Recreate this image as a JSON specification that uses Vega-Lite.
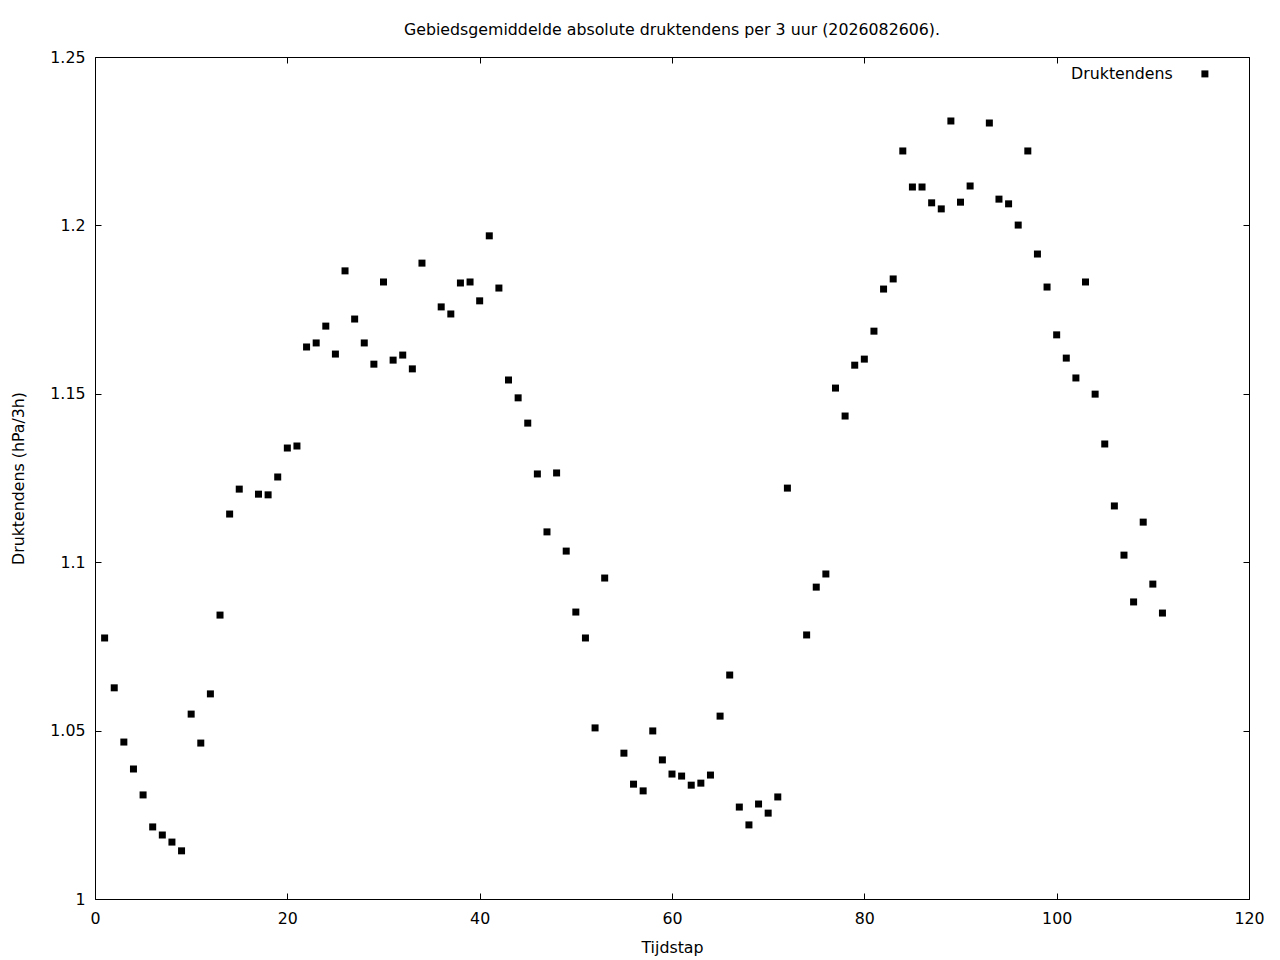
{
  "$schema": "https://vega.github.io/schema/vega-lite/v6.json",
  "description": "Gebiedsgemiddelde absolute druktendens per tijdstap",
  "autosize": "none",
  "width": 1154,
  "height": 842,
  "padding": {"left": 95, "top": 57, "right": 31, "bottom": 61},
  "background": "white",
  "title": {
    "text": "Gebiedsgemiddelde absolute druktendens per 3 uur (2026082606).",
    "anchor": "middle",
    "font": "DejaVu Sans",
    "fontSize": 15.8,
    "fontWeight": "normal",
    "color": "black",
    "offset": 10
  },
  "data": {
    "values": [
      {"tijdstap": 1, "druk": 1.0775}, {"tijdstap": 2, "druk": 1.0627}, {"tijdstap": 3, "druk": 1.0466},
      {"tijdstap": 4, "druk": 1.0386}, {"tijdstap": 5, "druk": 1.0309}, {"tijdstap": 6, "druk": 1.0214},
      {"tijdstap": 7, "druk": 1.0190}, {"tijdstap": 8, "druk": 1.0169}, {"tijdstap": 9, "druk": 1.0143},
      {"tijdstap": 10, "druk": 1.0549}, {"tijdstap": 11, "druk": 1.0463}, {"tijdstap": 12, "druk": 1.0609},
      {"tijdstap": 13, "druk": 1.0843}, {"tijdstap": 14, "druk": 1.1143}, {"tijdstap": 15, "druk": 1.1217},
      {"tijdstap": 17, "druk": 1.1202}, {"tijdstap": 18, "druk": 1.1200}, {"tijdstap": 19, "druk": 1.1253},
      {"tijdstap": 20, "druk": 1.1339}, {"tijdstap": 21, "druk": 1.1345}, {"tijdstap": 22, "druk": 1.1639},
      {"tijdstap": 23, "druk": 1.1651}, {"tijdstap": 24, "druk": 1.1701}, {"tijdstap": 25, "druk": 1.1618},
      {"tijdstap": 26, "druk": 1.1865}, {"tijdstap": 27, "druk": 1.1722}, {"tijdstap": 28, "druk": 1.1651},
      {"tijdstap": 29, "druk": 1.1588}, {"tijdstap": 30, "druk": 1.1832}, {"tijdstap": 31, "druk": 1.1600},
      {"tijdstap": 32, "druk": 1.1615}, {"tijdstap": 33, "druk": 1.1574}, {"tijdstap": 34, "druk": 1.1888},
      {"tijdstap": 36, "druk": 1.1758}, {"tijdstap": 37, "druk": 1.1737}, {"tijdstap": 38, "druk": 1.1829},
      {"tijdstap": 39, "druk": 1.1832}, {"tijdstap": 40, "druk": 1.1776}, {"tijdstap": 41, "druk": 1.1969},
      {"tijdstap": 42, "druk": 1.1814}, {"tijdstap": 43, "druk": 1.1541}, {"tijdstap": 44, "druk": 1.1488},
      {"tijdstap": 45, "druk": 1.1413}, {"tijdstap": 46, "druk": 1.1262}, {"tijdstap": 47, "druk": 1.1090},
      {"tijdstap": 48, "druk": 1.1265}, {"tijdstap": 49, "druk": 1.1033}, {"tijdstap": 50, "druk": 1.0852},
      {"tijdstap": 51, "druk": 1.0775}, {"tijdstap": 52, "druk": 1.0508}, {"tijdstap": 53, "druk": 1.0953},
      {"tijdstap": 55, "druk": 1.0433}, {"tijdstap": 56, "druk": 1.0341}, {"tijdstap": 57, "druk": 1.0321},
      {"tijdstap": 58, "druk": 1.0499}, {"tijdstap": 59, "druk": 1.0413}, {"tijdstap": 60, "druk": 1.0371},
      {"tijdstap": 61, "druk": 1.0365}, {"tijdstap": 62, "druk": 1.0338}, {"tijdstap": 63, "druk": 1.0344},
      {"tijdstap": 64, "druk": 1.0368}, {"tijdstap": 65, "druk": 1.0543}, {"tijdstap": 66, "druk": 1.0665},
      {"tijdstap": 67, "druk": 1.0273}, {"tijdstap": 68, "druk": 1.0220}, {"tijdstap": 69, "druk": 1.0282},
      {"tijdstap": 70, "druk": 1.0255}, {"tijdstap": 71, "druk": 1.0303}, {"tijdstap": 72, "druk": 1.1220},
      {"tijdstap": 74, "druk": 1.0784}, {"tijdstap": 75, "druk": 1.0926}, {"tijdstap": 76, "druk": 1.0965},
      {"tijdstap": 77, "druk": 1.1517}, {"tijdstap": 78, "druk": 1.1434}, {"tijdstap": 79, "druk": 1.1585},
      {"tijdstap": 80, "druk": 1.1603}, {"tijdstap": 81, "druk": 1.1686}, {"tijdstap": 82, "druk": 1.1811},
      {"tijdstap": 83, "druk": 1.1841}, {"tijdstap": 84, "druk": 1.2221}, {"tijdstap": 85, "druk": 1.2114},
      {"tijdstap": 86, "druk": 1.2114}, {"tijdstap": 87, "druk": 1.2067}, {"tijdstap": 88, "druk": 1.2049},
      {"tijdstap": 89, "druk": 1.2310}, {"tijdstap": 90, "druk": 1.2069}, {"tijdstap": 91, "druk": 1.2117},
      {"tijdstap": 93, "druk": 1.2304}, {"tijdstap": 94, "druk": 1.2078}, {"tijdstap": 95, "druk": 1.2064},
      {"tijdstap": 96, "druk": 1.2001}, {"tijdstap": 97, "druk": 1.2221}, {"tijdstap": 98, "druk": 1.1915},
      {"tijdstap": 99, "druk": 1.1817}, {"tijdstap": 100, "druk": 1.1675}, {"tijdstap": 101, "druk": 1.1606},
      {"tijdstap": 102, "druk": 1.1547}, {"tijdstap": 103, "druk": 1.1832}, {"tijdstap": 104, "druk": 1.1499},
      {"tijdstap": 105, "druk": 1.1351}, {"tijdstap": 106, "druk": 1.1167}, {"tijdstap": 107, "druk": 1.1021},
      {"tijdstap": 108, "druk": 1.0882}, {"tijdstap": 109, "druk": 1.1119}, {"tijdstap": 110, "druk": 1.0935},
      {"tijdstap": 111, "druk": 1.0849}
    ]
  },
  "layer": [
    {
      "mark": {"type": "point", "shape": "square", "filled": true, "size": 49, "opacity": 1},
      "encoding": {
        "x": {
          "field": "tijdstap",
          "type": "quantitative",
          "title": "Tijdstap",
          "scale": {"domain": [0, 120], "nice": false, "zero": false},
          "axis": {
            "orient": "bottom",
            "values": [0, 20, 40, 60, 80, 100, 120],
            "labelPadding": 12,
            "titlePadding": 15
          }
        },
        "y": {
          "field": "druk",
          "type": "quantitative",
          "title": "Druktendens (hPa/3h)",
          "scale": {"domain": [1, 1.25], "nice": false, "zero": false},
          "axis": {
            "orient": "left",
            "values": [1, 1.05, 1.1, 1.15, 1.2, 1.25],
            "format": ".3~f",
            "labelPadding": 10,
            "titlePadding": 23
          }
        },
        "color": {
          "datum": "Druktendens",
          "scale": {"range": ["black"]},
          "legend": {
            "title": null,
            "orient": "none",
            "legendX": 1102,
            "legendY": 9,
            "labelAlign": "right",
            "labelOffset": -40,
            "symbolType": "square",
            "symbolSize": 49,
            "symbolStrokeWidth": 0,
            "labelFont": "DejaVu Sans",
            "labelFontSize": 15.8,
            "labelColor": "black"
          }
        }
      }
    },
    {
      "mark": {"type": "point", "opacity": 0},
      "encoding": {
        "x": {
          "field": "tijdstap",
          "type": "quantitative",
          "axis": {
            "orient": "top",
            "values": [0, 20, 40, 60, 80, 100, 120],
            "labels": false,
            "title": null
          }
        },
        "y": {
          "field": "druk",
          "type": "quantitative",
          "axis": {
            "orient": "right",
            "values": [1, 1.05, 1.1, 1.15, 1.2, 1.25],
            "labels": false,
            "title": null
          }
        }
      }
    }
  ],
  "resolve": {"axis": {"x": "independent", "y": "independent"}},
  "config": {
    "view": {"stroke": "black", "strokeWidth": 1},
    "axis": {
      "domain": false,
      "grid": false,
      "ticks": true,
      "tickColor": "black",
      "tickWidth": 1,
      "tickSize": 6,
      "offset": -6,
      "labelFlush": false,
      "labelOverlap": false,
      "labelFont": "DejaVu Sans",
      "labelFontSize": 15.8,
      "labelColor": "black",
      "titleFont": "DejaVu Sans",
      "titleFontSize": 15.8,
      "titleFontWeight": "normal",
      "titleColor": "black"
    }
  }
}
